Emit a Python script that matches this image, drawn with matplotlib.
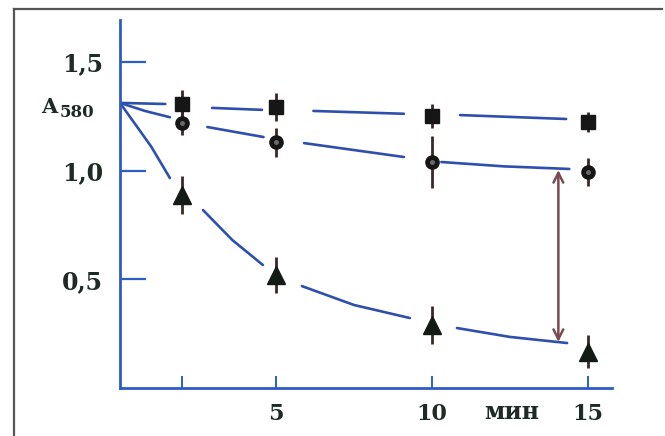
import numpy as np
import matplotlib
matplotlib.use("Agg")
import matplotlib.pyplot as plt
from matplotlib.lines import Line2D

# ---- data ----
t = [2, 5, 10, 15]
sq_y = [1.307, 1.293, 1.252, 1.224]
sq_err = [0.065, 0.065, 0.055, 0.047]
ci_y = [1.22, 1.13, 1.04, 0.995]
ci_err = [0.055, 0.065, 0.12, 0.065]
tr_y = [0.888, 0.52, 0.29, 0.166]
tr_err = [0.088, 0.083, 0.087, 0.076]

# hand-drawn fitted curves (broken around the points)
nan = np.nan
sq_line_x = [0, 1.45, nan, 2.95, 4.55, nan, 6.2, 9.1, nan, 10.9, 14.3]
sq_line_y = [1.312, 1.307, nan, 1.289, 1.280, nan, 1.275, 1.262, nan, 1.256, 1.238]
ci_line_x = [0, 0.8, 1.6, nan, 2.8, 4.6, nan, 5.9, 7.5, 9.1, nan, 10.3, 12.3, 14.4]
ci_line_y = [1.312, 1.275, 1.246, nan, 1.201, 1.155, nan, 1.127, 1.095, 1.063, nan, 1.04, 1.02, 1.008]
tr_line_x = [0, 1.0, 1.6, nan, 2.66, 3.6, 4.58, nan, 5.83, 7.5, 9.29, nan, 10.8, 12.5, 14.33]
tr_line_y = [1.312, 1.111, 0.966, nan, 0.819, 0.681, 0.566, nan, 0.469, 0.382, 0.322, nan, 0.276, 0.235, 0.207]

arrow_x = 14.05
arrow_top = 1.003
arrow_bottom = 0.212

ytick_vals = [0.5, 1.0, 1.5]
ytick_labels = ["0,5", "1,0", "1,5"]
xtick_vals = [2, 5, 10, 15]
xtick_labels = ["", "5", "10", "15"]

W, H = 665, 436
fig = plt.figure(figsize=(W / 100, H / 100), dpi=100)
fig.patch.set_facecolor("white")

x0, x1 = 120, 612
y0, y1 = 388, 20
ax = fig.add_axes([x0 / W, 1 - y0 / H, (x1 - x0) / W, (y0 - y1) / H])
ax.set_xlim(0, (x1 - x0) / 31.2)
ax.set_ylim(0, (y0 - y1) / 217.3)
ax.patch.set_alpha(0)

axis_blue = "#2d5cc2"
line_blue = "#2f4fae"
text_col = "#1e2a24"
err_col = "#3a2826"

for s in ["top", "right"]:
    ax.spines[s].set_visible(False)
for s in ["left", "bottom"]:
    ax.spines[s].set_color(axis_blue)
    ax.spines[s].set_linewidth(2.0)

serif = ["DejaVu Serif", "Liberation Serif"]
ax.set_yticks(ytick_vals)
ax.set_yticklabels(ytick_labels, fontfamily=serif, fontweight="bold",
                   fontsize=17, color=text_col)
ax.tick_params(axis="y", direction="in", length=19, width=1.6,
               color=axis_blue, pad=12)
ax.set_xticks(xtick_vals)
ax.set_xticklabels(xtick_labels, fontfamily=serif, fontweight="bold",
                   fontsize=16, color=text_col)
ax.tick_params(axis="x", direction="in", length=9, width=1.4,
               color=axis_blue, pad=11)

# curves
for lx, ly in [(sq_line_x, sq_line_y), (ci_line_x, ci_line_y), (tr_line_x, tr_line_y)]:
    ax.plot(lx, ly, color=line_blue, lw=1.9, solid_capstyle="round", zorder=2)

# error bars + markers
ax.errorbar(t, sq_y, yerr=sq_err, fmt="none", ecolor=err_col, elinewidth=2.0, zorder=3)
ax.errorbar(t, ci_y, yerr=ci_err, fmt="none", ecolor=err_col, elinewidth=2.0, zorder=3)
ax.errorbar(t, tr_y, yerr=tr_err, fmt="none", ecolor=err_col, elinewidth=2.0, zorder=3)
ax.plot(t, sq_y, "s", color="#161616", ms=10, zorder=4)
ax.plot(t, ci_y, "o", color="#161616", ms=9.5, zorder=4)
ax.plot(t, ci_y, "o", color="#6a6a6a", ms=2.5, zorder=5)
ax.plot(t, tr_y, "^", color="#141a16", ms=13, zorder=4)

# double arrow
ax.annotate("", xy=(arrow_x, arrow_bottom), xytext=(arrow_x, arrow_top),
            arrowprops=dict(arrowstyle="<->,head_length=0.7,head_width=0.35",
                            color="#7a4a52", lw=1.8, shrinkA=0, shrinkB=0),
            zorder=3)

# texts
fig.text(41 / W, 1 - 113 / H, "A", fontfamily=serif, fontweight="bold",
         fontsize=15, color=text_col, ha="left", va="baseline")
fig.text(60 / W, 1 - 117 / H, "580", fontfamily=serif, fontweight="bold",
         fontsize=12, color=text_col, ha="left", va="baseline")
fig.text(512 / W, 1 - 419 / H, "мин", fontfamily=serif, fontweight="bold",
         fontsize=17, color=text_col, ha="center", va="baseline")

# scan frame
fig.add_artist(Line2D([14 / W, 14 / W], [0, 1 - 9 / H], transform=fig.transFigure,
                      color="#555555", lw=1.6))
fig.add_artist(Line2D([14 / W, 662 / W], [1 - 9 / H, 1 - 9 / H], transform=fig.transFigure,
                      color="#555555", lw=1.6))

fig.savefig("out.png", dpi=100, facecolor="white")
